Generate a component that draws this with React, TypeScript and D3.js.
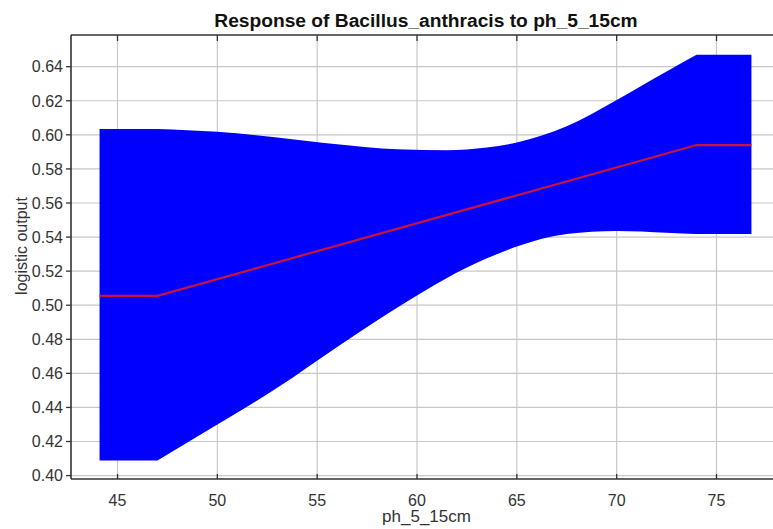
import * as d3 from "d3";
import React from "react";

const title = "Response of Bacillus_anthracis to ph_5_15cm";
const xLabel = "ph_5_15cm";
const yLabel = "logistic output";

// band (mean +/- one std dev)
const bandX = [44.1, 47, 50, 53, 56, 59, 61.5, 63.5, 65, 67.5, 70, 72.5, 74, 76.75];
const bandUpper = [0.6035, 0.6035, 0.6018, 0.5985, 0.5945, 0.5915, 0.591, 0.5925, 0.5955, 0.605, 0.6205, 0.6372, 0.647, 0.647];
const bandLower = [0.4088, 0.4088, 0.43, 0.4515, 0.4755, 0.4985, 0.516, 0.5275, 0.5345, 0.5418, 0.5436, 0.5426, 0.5418, 0.5418];

// mean response
const meanX = [44.1, 47, 74, 76.75];
const meanY = [0.5055, 0.5055, 0.594, 0.594];

const xTicks = [45, 50, 55, 60, 65, 70, 75];
const yTicks = [0.4, 0.42, 0.44, 0.46, 0.48, 0.5, 0.52, 0.54, 0.56, 0.58, 0.6, 0.62, 0.64];

const W = 773;
const H = 529;
const left = 71;
const right = 774;
const top = 35;
const bottom = 479;

const App = () => {
  const x = d3.scaleLinear().domain([42.67, 77.88]).range([left, right]);
  const y = d3.scaleLinear().domain([0.398, 0.6586]).range([bottom, top]);

  const last = bandX.length - 1;
  const mid = bandX.map((_, i) => i).slice(1, last);

  // smooth ramp between the clamped (flat) ends, sharp corners where they meet
  const edge = (vals: number[]) =>
    d3
      .line<number>()
      .x((i) => x(bandX[i]))
      .y((i) => y(vals[i]))
      .curve(d3.curveMonotoneX);

  const upperPath = edge(bandUpper)(mid) || "";
  const lowerPath = edge(bandLower)([...mid].reverse()) || "";
  const bandPath =
    `M${x(bandX[0])},${y(bandUpper[0])}L` +
    upperPath.slice(1) +
    `L${x(bandX[last])},${y(bandUpper[last])}` +
    `L${x(bandX[last])},${y(bandLower[last])}L` +
    lowerPath.slice(1) +
    `L${x(bandX[0])},${y(bandLower[0])}Z`;

  const mean = d3
    .line<number>()
    .x((_, i) => x(meanX[i]))
    .y((d) => y(d));

  const font = "'Liberation Sans', Arial, sans-serif";

  return (
    <svg
      width={W}
      height={H}
      style={{ position: "absolute", left: 0, top: 0, background: "#fff" }}
      fontFamily={font}
    >
      <rect width={W} height={H} fill="#fff" />
      {/* grid */}
      {xTicks.map((t) => (
        <line key={"gx" + t} x1={x(t)} x2={x(t)} y1={top} y2={bottom} stroke="#c8c8c8" strokeWidth={1.2} />
      ))}
      {yTicks.map((t) => (
        <line key={"gy" + t} x1={left} x2={right} y1={y(t)} y2={y(t)} stroke="#c8c8c8" strokeWidth={1.2} />
      ))}

      <path d={bandPath} fill="#0000ff" />
      <path d={mean(meanY) || undefined} fill="none" stroke="#c8143c" strokeWidth={2.2} />

      {/* frame */}
      <line x1={left} x2={right} y1={top} y2={top} stroke="#333" strokeWidth={1.6} />
      <line x1={left} x2={right} y1={bottom} y2={bottom} stroke="#333" strokeWidth={1.6} />
      <line x1={left} x2={left} y1={top} y2={bottom} stroke="#333" strokeWidth={1.6} />

      {/* ticks */}
      {xTicks.map((t) => (
        <g key={"tx" + t}>
          <line x1={x(t)} x2={x(t)} y1={top} y2={top + 6} stroke="#333" strokeWidth={1.3} />
          <line x1={x(t)} x2={x(t)} y1={bottom} y2={bottom - 5} stroke="#333" strokeWidth={1.3} />
          <text x={x(t)} y={505.5} textAnchor="middle" fontSize={16} fill="#333">
            {t}
          </text>
        </g>
      ))}
      {yTicks.map((t) => (
        <g key={"ty" + t}>
          <line x1={left - 5} x2={left} y1={y(t)} y2={y(t)} stroke="#333" strokeWidth={1.3} />
          <text x={63} y={y(t) + 5.8} textAnchor="end" fontSize={16} fill="#333">
            {t.toFixed(2)}
          </text>
        </g>
      ))}

      <text x={426} y={27} textAnchor="middle" fontSize={19.2} fontWeight="bold" fill="#111">
        {title}
      </text>
      <text x={426.5} y={522} textAnchor="middle" fontSize={17} fill="#333">
        {xLabel}
      </text>
      <text
        transform={`translate(27, 246) rotate(-90)`}
        textAnchor="middle"
        fontSize={16}
        fill="#333"
      >
        {yLabel}
      </text>
    </svg>
  );
};

export default App;
